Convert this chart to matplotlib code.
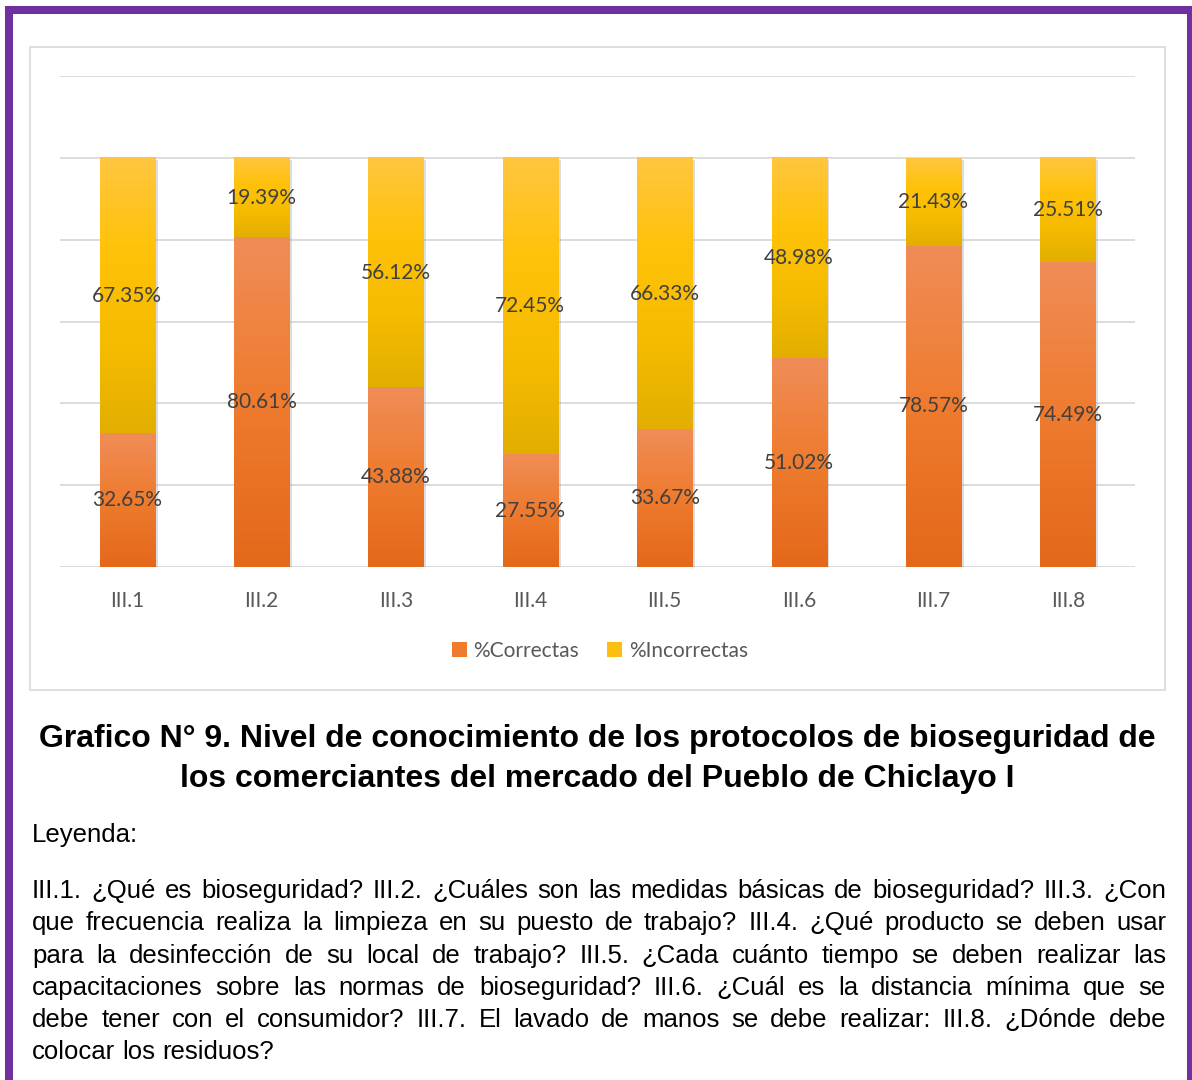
import matplotlib
matplotlib.use("Agg")
import numpy as np
import matplotlib.pyplot as plt
import matplotlib.patheffects as pe
from matplotlib.patches import Rectangle, Patch
from matplotlib.colors import LinearSegmentedColormap

# Tamaño del lienzo en pixeles (dpi 100)
W, H = 1192, 1080

# Datos
preguntas = ["III.1", "III.2", "III.3", "III.4", "III.5", "III.6", "III.7", "III.8"]
correctas = [32.65, 80.61, 43.88, 27.55, 33.67, 51.02, 78.57, 74.49]
incorrectas = [67.35, 19.39, 56.12, 72.45, 66.33, 48.98, 21.43, 25.51]
series = ["%Correctas", "%Incorrectas"]

titulo = [
    "Grafico N° 9. Nivel de conocimiento de los protocolos de bioseguridad de",
    "los comerciantes del mercado del Pueblo de Chiclayo I",
]
leyenda_lineas = [
    "III.1. ¿Qué es bioseguridad? III.2. ¿Cuáles son las medidas básicas de bioseguridad? III.3. ¿Con",
    "que frecuencia realiza la limpieza en su puesto de trabajo? III.4. ¿Qué producto se deben usar",
    "para la desinfección de su local de trabajo? III.5. ¿Cada cuánto tiempo se deben realizar las",
    "capacitaciones sobre las normas de bioseguridad? III.6. ¿Cuál es la distancia mínima que se",
    "debe tener con el consumidor? III.7. El lavado de manos se debe realizar: III.8. ¿Dónde debe",
    "colocar los residuos?",
]


def px(x, y):
    # pixel (desde arriba a la izquierda) -> fraccion de figura
    return x / W, 1 - y / H


fig = plt.figure(figsize=(W / 100, H / 100), dpi=100)
fig.patch.set_facecolor("white")

# Marco morado
fig.patches.append(Rectangle(px(9, 1200), (1191 - 9) / W, (1200 - 10) / H,
                             transform=fig.transFigure, fill=False,
                             edgecolor="#7030A0", linewidth=5.8, zorder=-2))
# Caja del grafico
fig.patches.append(Rectangle(px(30, 690), 1135 / W, 643 / H,
                             transform=fig.transFigure, facecolor="white",
                             edgecolor="#D9D9D9", linewidth=1.2, zorder=-1))

ax = fig.add_axes([60 / W, 1 - 567 / H, 1075 / W, 491 / H])
ax.set_facecolor("none")
ax.set_zorder(2)

x = np.arange(len(preguntas))
ancho = 0.41
sombra = [pe.SimplePatchShadow(offset=(2, -1.5), shadow_rgbFace="#A0A0A0", alpha=0.35), pe.Normal()]
b1 = ax.bar(x, correctas, ancho, color="#ED7D31", zorder=1.5, path_effects=sombra)
b2 = ax.bar(x, incorrectas, ancho, bottom=correctas, color="#FFC000", zorder=1.5, path_effects=sombra)

# Degradados tipo Excel en cada segmento
cmap_c = LinearSegmentedColormap.from_list("c", ["#E4681A", "#EE7B2E", "#F08D57"])
cmap_i = LinearSegmentedColormap.from_list("i", ["#E2AE00", "#F6BC00", "#FFC20A", "#FFC640"])
grad = np.linspace(0, 1, 256).reshape(-1, 1)
for barras, cmap in [(b1, cmap_c), (b2, cmap_i)]:
    for p in barras:
        ax.imshow(grad, extent=[p.get_x(), p.get_x() + p.get_width(), p.get_y(), p.get_y() + p.get_height()],
                  origin="lower", cmap=cmap, aspect="auto", zorder=2, interpolation="bilinear")

for barras, vals in [(b1, correctas), (b2, incorrectas)]:
    etiquetas = ax.bar_label(barras, labels=[f"{v:.2f}%" for v in vals], label_type="center",
                             fontsize=15, color="#404040", family="Lato")
    for t in etiquetas:
        t.set_zorder(4)

ax.set_xlim(-0.5, len(preguntas) - 0.5)
ax.set_ylim(0, 120)
ax.set_yticks(np.arange(0, 121, 20))
ax.set_yticklabels([])
ax.yaxis.grid(True, color="#D9D9D9", linewidth=1.3)
ax.set_axisbelow(True)
ax.tick_params(axis="both", length=0)
ax.tick_params(axis="x", pad=17)
ax.set_xticks(x)
ax.set_xticklabels(preguntas, fontsize=15, color="#595959", family="Lato")
for s in ax.spines.values():
    s.set_visible(False)

handles = [Patch(facecolor="#EE7B2E"), Patch(facecolor="#FCBF10")]
fig.legend(handles, series, loc="center", bbox_to_anchor=px(600, 651), ncol=2, frameon=False,
           prop={"family": "Lato", "size": 15}, labelcolor="#595959",
           handlelength=0.72, handleheight=0.72, handletextpad=0.3, columnspacing=1.35)

# Titulo
for linea, yb in zip(titulo, [747, 787]):
    fig.text(*px(597, yb), linea, ha="center", va="baseline", fontsize=23,
             fontweight="bold", family="Liberation Sans", color="black")

fig.text(*px(32, 842), "Leyenda:", va="baseline", fontsize=18.5, family="Liberation Sans")

# Parrafo justificado
renderer = fig.canvas.get_renderer()
x_ini, x_fin = 32, 1166
bases = [898, 930, 963, 995, 1027, 1059]
for n, (linea, yb) in enumerate(zip(leyenda_lineas, bases)):
    palabras = linea.split(" ")
    objs = [fig.text(*px(0, yb), p, va="baseline", fontsize=18.5, family="Liberation Sans")
            for p in palabras]
    anchos = [t.get_window_extent(renderer).width for t in objs]
    if n < len(leyenda_lineas) - 1:
        hueco = (x_fin - x_ini - sum(anchos)) / (len(palabras) - 1)
    else:
        hueco = 18.5 * 100 / 72 * 0.278
    pos = x_ini
    for t, a in zip(objs, anchos):
        t.set_x(pos / W)
        pos += a + hueco

fig.savefig("out.png", dpi=100)
